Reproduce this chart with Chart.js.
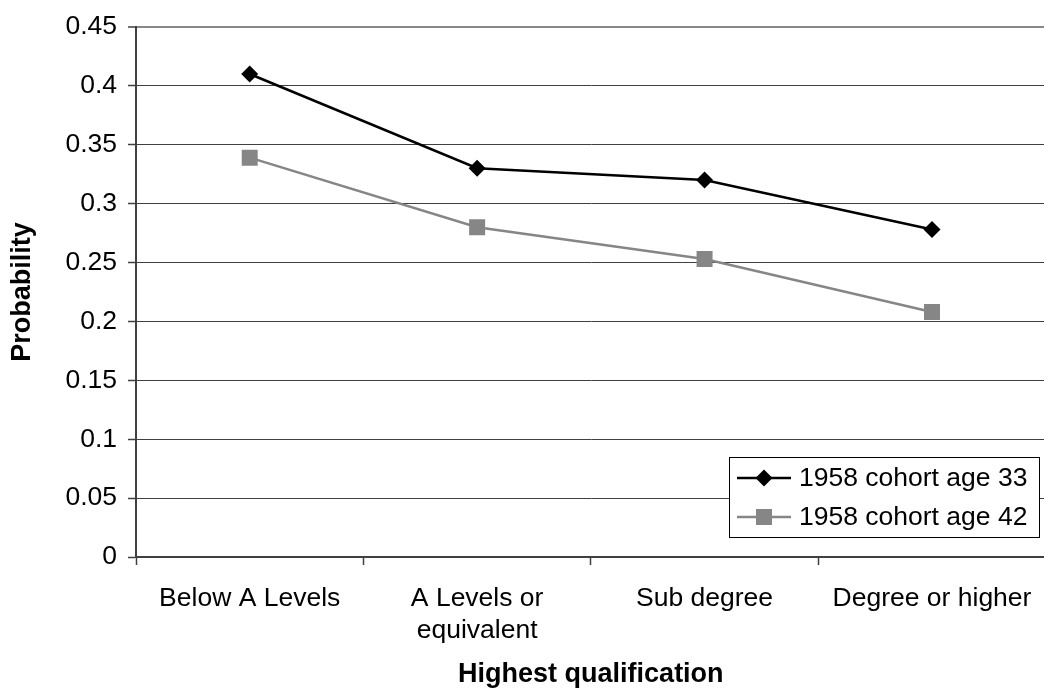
<!DOCTYPE html>
<html>
<head>
<meta charset="utf-8">
<script src="https://cdn.jsdelivr.net/npm/chart.js@4.4.0/dist/chart.umd.min.js"></script>
<style>
  html, body { margin: 0; padding: 0; background: #fff; overflow: hidden; }
  canvas { display: block; }
</style>
</head>
<body>
<canvas id="c" width="1057" height="689" style="width:1057px;height:689px"></canvas>
<script>
const categories = [["Below A Levels"], ["A Levels or", "equivalent"], ["Sub degree"], ["Degree or higher"]];
const series33 = [0.41, 0.33, 0.32, 0.278];
const series42 = [0.339, 0.28, 0.253, 0.208];
const seriesNames = ["1958 cohort age 33", "1958 cohort age 42"];
const yTickLabels = ["0", "0.05", "0.1", "0.15", "0.2", "0.25", "0.3", "0.35", "0.4", "0.45"];
const xTitle = "Highest qualification";
const yTitle = "Probability";

const FONT = "'Liberation Sans', Arial, sans-serif";

const legendPlugin = {
  id: 'boxLegend',
  afterDraw(chart) {
    const ctx = chart.ctx;
    const bx = 729.5, by = 457.5, bw = 310, bh = 80;
    ctx.save();
    ctx.fillStyle = '#fff';
    ctx.fillRect(bx, by, bw, bh);
    ctx.strokeStyle = '#000';
    ctx.lineWidth = 1;
    ctx.strokeRect(bx, by, bw, bh);
    const rows = [478, 517];
    chart.data.datasets.forEach((ds, i) => {
      const y = rows[i];
      ctx.strokeStyle = ds.borderColor;
      ctx.lineWidth = ds.borderWidth;
      ctx.beginPath();
      ctx.moveTo(737, y);
      ctx.lineTo(791, y);
      ctx.stroke();
      ctx.fillStyle = ds.pointBackgroundColor;
      ctx.strokeStyle = ds.pointBorderColor;
      Chart.helpers.drawPoint(ctx, {pointStyle: ds.pointStyle, radius: ds.pointRadius, borderWidth: 0, rotation: 0}, 764, y);
      ctx.fillStyle = '#000';
      ctx.font = '26.5px ' + FONT;
      ctx.textBaseline = 'middle';
      ctx.textAlign = 'left';
      ctx.fillText(ds.label, 799, y + 1);
    });
    ctx.restore();
  }
};

new Chart(document.getElementById('c'), {
  type: 'line',
  data: {
    labels: categories,
    datasets: [
      {
        label: seriesNames[0],
        data: series33,
        borderColor: '#000000',
        backgroundColor: '#000000',
        pointBackgroundColor: '#000000',
        pointBorderColor: '#000000',
        borderWidth: 2.5,
        pointStyle: 'rectRot',
        pointRadius: 8.5,
        pointBorderWidth: 0,
        pointHoverRadius: 8.5,
        tension: 0,
        fill: false
      },
      {
        label: seriesNames[1],
        data: series42,
        borderColor: '#868686',
        backgroundColor: '#868686',
        pointBackgroundColor: '#868686',
        pointBorderColor: '#868686',
        borderWidth: 2.5,
        pointStyle: 'rect',
        pointRadius: 11.3,
        pointBorderWidth: 0,
        pointHoverRadius: 11.3,
        tension: 0,
        fill: false
      }
    ]
  },
  options: {
    responsive: false,
    animation: false,
    events: [],
    layout: { padding: { top: 24, right: 2.2, left: 0, bottom: 0 } },
    plugins: {
      legend: { display: false },
      tooltip: { enabled: false }
    },
    scales: {
      x: {
        type: 'category',
        offset: true,
        afterFit(scale) { scale.height = 132; },
        grid: {
          offset: true,
          drawOnChartArea: false,
          drawTicks: true,
          tickLength: 8,
          tickColor: '#404040',
          tickWidth: 1.5
        },
        border: { display: true, color: '#404040', width: 2 },
        ticks: {
          color: '#000',
          font: { family: FONT, size: 26.5, lineHeight: 1.2 },
          padding: 18,
          maxRotation: 0,
          autoSkip: false
        },
        title: {
          display: true,
          text: xTitle,
          color: '#000',
          font: { family: FONT, size: 27, weight: 'bold', lineHeight: 1.0 },
          padding: { top: 0, bottom: 1 }
        }
      },
      y: {
        min: 0,
        max: 0.45,
        afterFit(scale) { scale.width = 136; },
        afterBuildTicks(scale) {
          scale.ticks = yTickLabels.map(t => ({ value: parseFloat(t) }));
        },
        grid: {
          drawTicks: true,
          tickLength: 8,
          color: ctx => (ctx.tick && Math.abs(ctx.tick.value - 0.45) < 1e-9) ? '#888888' : '#404040',
          lineWidth: ctx => (ctx.tick && Math.abs(ctx.tick.value - 0.45) < 1e-9) ? 2 : 1,
          tickColor: '#404040',
          tickWidth: 1.5
        },
        border: { display: true, color: '#404040', width: 2 },
        ticks: {
          color: '#000',
          font: { family: FONT, size: 26.5 },
          padding: 11,
          callback: (v, i) => yTickLabels[i]
        },
        title: {
          display: true,
          text: yTitle,
          color: '#000',
          font: { family: FONT, size: 27, weight: 'bold', lineHeight: 1.0 },
          padding: { top: 9, bottom: 0 }
        }
      }
    }
  },
  plugins: [legendPlugin]
});
</script>
</body>
</html>
